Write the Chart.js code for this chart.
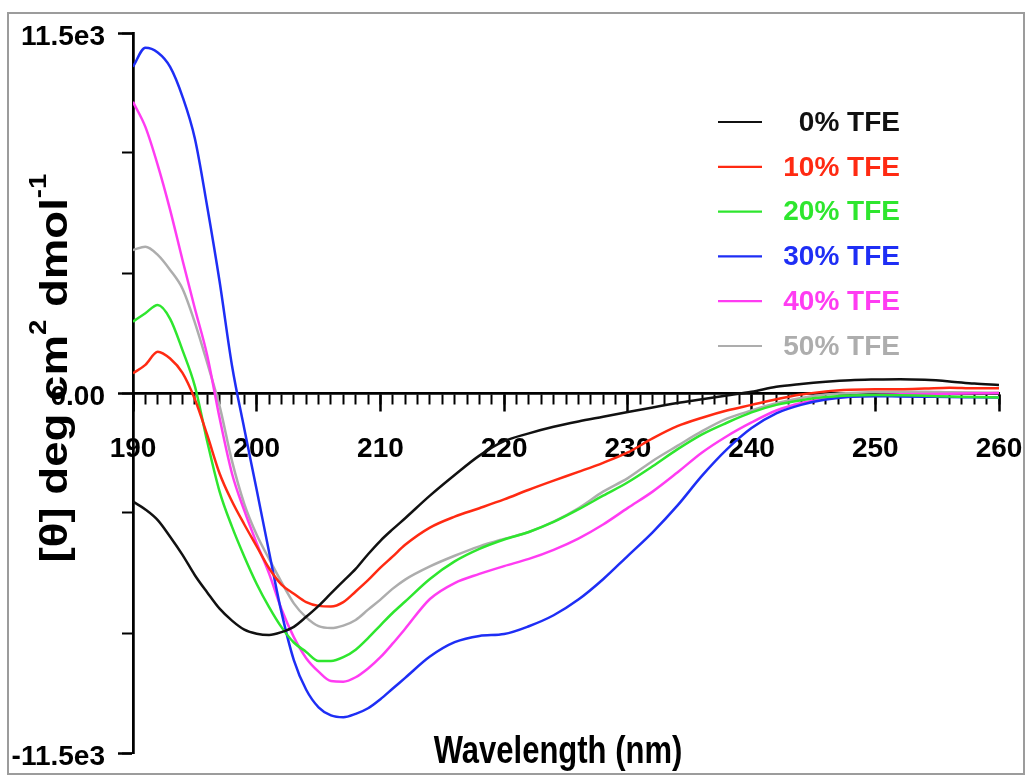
<!DOCTYPE html>
<html><head><meta charset="utf-8">
<script src="https://cdn.jsdelivr.net/npm/chart.js@4.4.1/dist/chart.umd.min.js"></script>
<style>html,body{margin:0;padding:0;background:#fff;overflow:hidden}</style>
</head><body>
<canvas id="c" width="1027" height="776" style="display:block;width:1027px;height:776px"></canvas>
<script>
// ---- data ----
const WAVELENGTH = [190,191,192,193,194,195,196,197,198,199,200,201,202,203,204,205,206,207,208,209,210,211,212,
  214,216,218,220,222,224,226,228,230,232,234,236,238,240,242,244,246,248,250,252,254,256,258,260];
const TFE_0 = [-3470,-3720,-4060,-4590,-5170,-5820,-6370,-6890,-7270,-7560,-7690,-7730,-7640,-7470,-7150,-6800,-6400,-6010,-5620,-5150,-4720,-4350,-4000,
  -3280,-2620,-2000,-1540,-1290,-1080,-910,-760,-610,-460,-320,-200,-80,40,200,290,360,410,430,440,420,370,300,255];
const TFE_10 = [630,900,1320,1100,640,-200,-1340,-2570,-3460,-4200,-4900,-5600,-6120,-6410,-6680,-6800,-6820,-6680,-6340,-5980,-5580,-5220,-4850,
  -4300,-3950,-3680,-3400,-3090,-2800,-2520,-2230,-1900,-1450,-1060,-790,-560,-380,-200,-50,50,100,118,118,140,170,150,150];
const TFE_20 = [2280,2550,2810,2370,1370,220,-1550,-3150,-4270,-5230,-6100,-6840,-7480,-7970,-8270,-8560,-8560,-8440,-8200,-7830,-7420,-7020,-6660,
  -5940,-5380,-4980,-4680,-4440,-4120,-3720,-3280,-2850,-2340,-1800,-1320,-950,-620,-380,-230,-130,-80,-60,-70,-90,-110,-130,-140];
const TFE_30 = [10420,11030,10880,10420,9470,8130,5950,3560,880,-1150,-3100,-5080,-7000,-8530,-9480,-10040,-10300,-10360,-10250,-10070,-9780,-9440,-9100,
  -8420,-7960,-7760,-7700,-7450,-7100,-6600,-5950,-5200,-4450,-3600,-2640,-1800,-1120,-650,-380,-210,-120,-100,-110,-120,-130,-135,-140];
const TFE_40 = [9300,8500,7280,5850,4250,2700,1200,-800,-2570,-3760,-4800,-5770,-6900,-7800,-8470,-8900,-9200,-9220,-9080,-8800,-8440,-8000,-7530,
  -6580,-6070,-5780,-5530,-5300,-5010,-4650,-4200,-3670,-3150,-2540,-1900,-1380,-940,-560,-320,-180,-100,-60,-40,-30,-20,-10,0];
const TFE_50 = [4570,4670,4410,3930,3330,2250,960,-420,-2170,-3550,-4530,-5300,-6040,-6720,-7170,-7450,-7510,-7430,-7250,-6920,-6600,-6250,-5960,
  -5540,-5200,-4900,-4660,-4440,-4110,-3680,-3150,-2720,-2170,-1690,-1220,-820,-560,-330,-160,-50,0,30,42,40,25,15,10];

const SERIES_LABELS = ['0% TFE','10% TFE','20% TFE','30% TFE','40% TFE','50% TFE'];
const SERIES_VALUES = [TFE_0, TFE_10, TFE_20, TFE_30, TFE_40, TFE_50];
const SERIES_COLORS = ['#111111','#ff2a12','#2ee62e','#1e2ef5','#ff3cf2','#adadad'];

const X_MIN = 190, X_MAX = 260;
const Y_MIN = -11500, Y_MAX = 11500;
const Y_MINOR_TICKS = [-11500,-7666.67,-3833.33,0,3833.33,7666.67,11500];
const Y_LABEL_TICKS = [-11500,0,11500];
const Y_TICK_LABELS = ['-11.5e3','0.00','11.5e3'];
const X_TITLE = 'Wavelength (nm)';
const Y_TITLE_PARTS = [['[\u03B8] deg cm', false], ['2', true], [' dmol', false], ['-1', true]];

const FONT = "'Liberation Sans', Arial, Helvetica, sans-serif";

const decor = {
  id: 'decor',
  beforeDraw(chart) {
    const ctx = chart.ctx;
    ctx.save();
    ctx.fillStyle = '#ffffff';
    ctx.fillRect(0, 0, chart.width, chart.height);
    ctx.strokeStyle = '#9c9c9c';
    ctx.lineWidth = 2;
    ctx.strokeRect(8, 13, 1016, 761);
    ctx.restore();
  },
  afterDraw(chart) {
    const ctx = chart.ctx;
    ctx.save();
    // legend
    chart.data.datasets.forEach((ds, i) => {
      const y = 122 + i * 44.8;
      ctx.strokeStyle = ds.borderColor;
      ctx.lineWidth = 2.2;
      ctx.beginPath(); ctx.moveTo(718, y); ctx.lineTo(762, y); ctx.stroke();
      ctx.fillStyle = ds.borderColor;
      ctx.font = 'bold 28px ' + FONT;
      ctx.textAlign = 'right';
      ctx.textBaseline = 'middle';
      ctx.fillText(ds.label, 900, y + 1);
    });
    // x title
    ctx.save();
    ctx.translate(558, 763);
    ctx.scale(1, 1.26);
    ctx.fillStyle = '#000';
    ctx.font = 'bold 31px ' + FONT;
    ctx.textAlign = 'center';
    ctx.textBaseline = 'alphabetic';
    ctx.fillText(X_TITLE, 0, 0);
    ctx.restore();
    // y title
    ctx.save();
    ctx.translate(67, 368);
    ctx.rotate(-Math.PI / 2);
    ctx.scale(1.2, 1);
    ctx.fillStyle = '#000';
    ctx.textAlign = 'left';
    ctx.textBaseline = 'alphabetic';
    const F = 38, FS = 23;
    let total = 0;
    const widths = Y_TITLE_PARTS.map(([t, sup]) => {
      ctx.font = 'bold ' + (sup ? FS : F) + 'px ' + FONT;
      const w = ctx.measureText(t).width;
      total += w; return w;
    });
    let x = -total / 2;
    Y_TITLE_PARTS.forEach(([t, sup], i) => {
      ctx.font = 'bold ' + (sup ? FS : F) + 'px ' + FONT;
      ctx.fillText(t, x, sup ? -21 : 0);
      x += widths[i];
    });
    ctx.restore();
    ctx.restore();
  }
};

const datasets = SERIES_VALUES.map((vals, i) => ({
  label: SERIES_LABELS[i],
  data: WAVELENGTH.map((w, j) => ({x: w, y: vals[j]})),
  borderColor: SERIES_COLORS[i],
  backgroundColor: SERIES_COLORS[i],
  borderWidth: 2.5,
  pointRadius: 0,
  fill: false,
  cubicInterpolationMode: 'monotone',
  xAxisID: 'x',
  yAxisID: 'y'
}));

function noLabelPadding(scale) {
  scale.paddingLeft = 0; scale.paddingRight = 0;
  scale.paddingTop = 0; scale.paddingBottom = 0;
}

new Chart(document.getElementById('c'), {
  type: 'line',
  data: { datasets },
  plugins: [decor],
  options: {
    responsive: false,
    animation: false,
    devicePixelRatio: 1,
    layout: { padding: { left: 0, right: 28, top: 33, bottom: 23 } },
    plugins: { legend: { display: false }, tooltip: { enabled: false } },
    scales: {
      x: {
        type: 'linear', min: X_MIN, max: X_MAX,
        position: { y: 0 },
        afterFit: noLabelPadding,
        ticks: { stepSize: 1, display: false },
        grid: { display: true, drawOnChartArea: false, drawTicks: true, tickLength: 10, tickWidth: 2, tickColor: '#000' },
        border: { display: true, color: '#000', width: 2.5 }
      },
      x2: {
        type: 'linear', min: X_MIN, max: X_MAX,
        position: { y: 0 },
        afterFit: noLabelPadding,
        ticks: { stepSize: 10, autoSkip: false, maxRotation: 0, padding: 22, color: '#000',
                 font: { family: FONT, size: 28, weight: 'bold' } },
        grid: { display: true, drawOnChartArea: false, drawTicks: true, tickLength: 17, tickWidth: 2.5, tickColor: '#000' },
        border: { display: true, color: '#000', width: 2.5 }
      },
      y: {
        type: 'linear', min: Y_MIN, max: Y_MAX,
        position: 'left',
        afterFit(scale) { scale.width = 133; noLabelPadding(scale); },
        afterBuildTicks(scale) { scale.ticks = Y_LABEL_TICKS.map(v => ({value: v})); },
        ticks: { padding: 13, labelOffset: 4, color: '#000', font: { family: FONT, size: 28, weight: 'bold' },
                 callback(v) { const k = Y_LABEL_TICKS.indexOf(v); return k >= 0 ? Y_TICK_LABELS[k] : ''; } },
        grid: { display: true, drawOnChartArea: false, drawTicks: true, tickLength: 15, tickWidth: 2.5, tickColor: '#000' },
        border: { display: true, color: '#000', width: 2.5 }
      },
      yMinor: {
        type: 'linear', min: Y_MIN, max: Y_MAX,
        position: { x: X_MIN },
        afterFit: noLabelPadding,
        afterBuildTicks(scale) { scale.ticks = Y_MINOR_TICKS.map(v => ({value: v})); },
        ticks: { display: false },
        grid: { display: true, drawOnChartArea: false, drawTicks: true, tickLength: 10, tickWidth: 2, tickColor: '#000' },
        border: { display: true, color: '#000', width: 2.5 }
      }
    }
  }
});
</script>
</body></html>
